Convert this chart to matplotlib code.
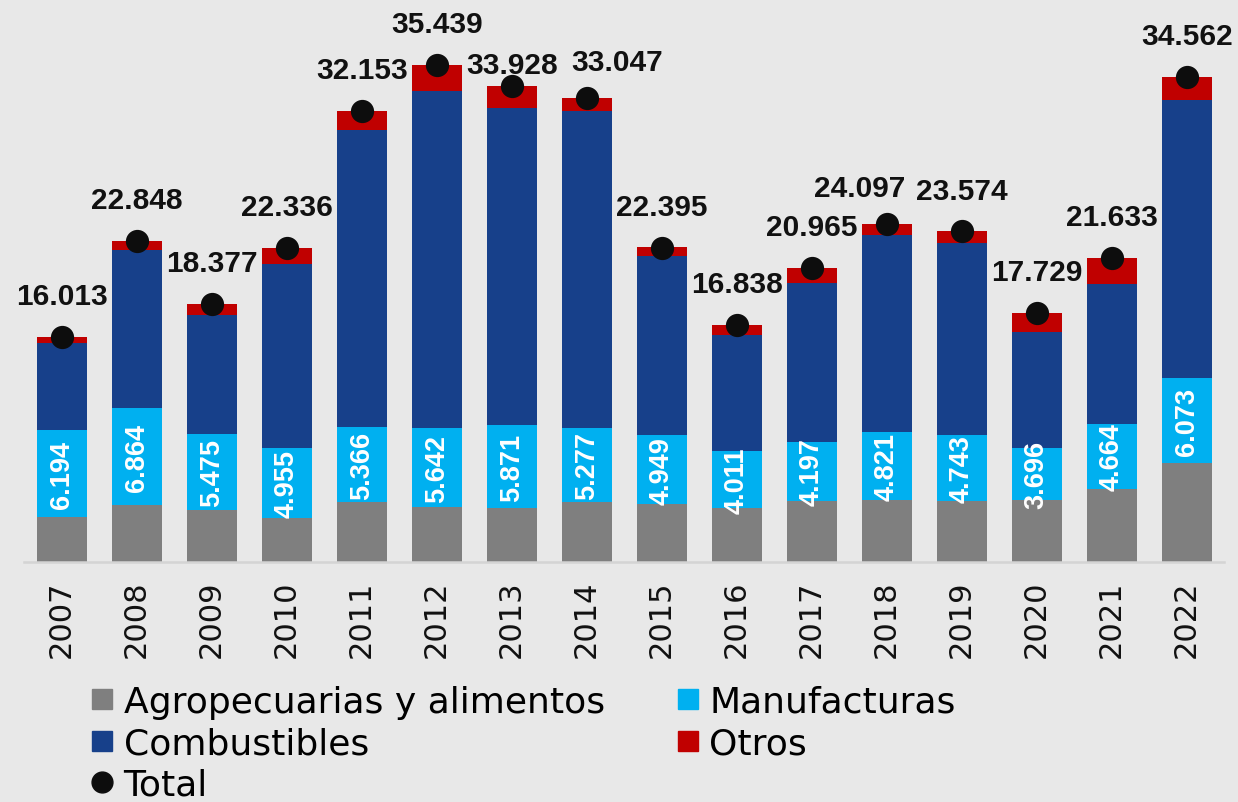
import matplotlib
matplotlib.use("Agg")
import matplotlib.pyplot as plt
from matplotlib.lines import Line2D
import numpy as np

years = [2007, 2008, 2009, 2010, 2011, 2012, 2013, 2014,
         2015, 2016, 2017, 2018, 2019, 2020, 2021, 2022]
agro = [3.15, 4.05, 3.65, 3.12, 4.22, 3.87, 3.84, 4.22,
        4.08, 3.84, 4.34, 4.41, 4.29, 4.41, 5.17, 7.00]
manuf = [6.194, 6.864, 5.475, 4.955, 5.366, 5.642, 5.871, 5.277,
         4.949, 4.011, 4.197, 4.821, 4.743, 3.696, 4.664, 6.073]
combust = [6.24, 11.33, 8.46, 13.12, 21.17, 24.07, 22.66, 22.65,
           12.74, 8.33, 11.32, 14.06, 13.67, 8.24, 9.98, 19.85]
otros = [0.43, 0.61, 0.80, 1.14, 1.39, 1.86, 1.56, 0.90,
         0.63, 0.66, 1.10, 0.81, 0.87, 1.38, 1.82, 1.64]
total = [16.013, 22.848, 18.377, 22.336, 32.153, 35.439, 33.928, 33.047,
         22.395, 16.838, 20.965, 24.097, 23.574, 17.729, 21.633, 34.562]

BG = "#e8e8e8"
C_AGRO = "#7f7f7f"
C_MANUF = "#00b0f0"
C_COMB = "#17408a"
C_OTROS = "#c00000"
C_DOT = "#0d0d0d"

fig = plt.figure(figsize=(12.38, 8.03), dpi=100, facecolor=BG)
ax = fig.add_axes([0.01955, 0.2995, 0.9693, 0.6984])
ax.set_facecolor(BG)

x = np.arange(len(years))
w = 0.667
agro_a = np.array(agro)
manuf_a = np.array(manuf)
comb_a = np.array(combust)
otros_a = np.array(otros)

ax.bar(x, agro_a, w, color=C_AGRO, zorder=2)
ax.bar(x, manuf_a, w, bottom=agro_a, color=C_MANUF, zorder=2)
ax.bar(x, comb_a, w, bottom=agro_a + manuf_a, color=C_COMB, zorder=2)
ax.bar(x, otros_a, w, bottom=agro_a + manuf_a + comb_a, color=C_OTROS, zorder=2)
ax.scatter(x, total, s=280, color=C_DOT, zorder=4, linewidths=0)

# manufacturas values inside the cyan segment
for xi, a, m in zip(x, agro, manuf):
    ax.text(xi, a + m / 2, f"{m:.3f}", rotation=90, ha="center", va="center",
            color="white", fontsize=19.5, fontweight="bold",
            family="Liberation Sans", zorder=3)

# total labels above the dots (a few were nudged in the original)
nudge = {2013: (0, 15), 2014: (22, 26), 2018: (-19.5, 26), 2019: (0, 28.5)}
for xi, yr, t in zip(x, years, total):
    ax.annotate(f"{t:.3f}", (xi, t), xytext=nudge.get(yr, (0, 29.5)),
                textcoords="offset points", ha="center", va="center",
                fontsize=21.5, fontweight="bold", family="Liberation Sans",
                color="#111111", zorder=5)

ax.set_xlim(-0.5, len(years) - 0.5)
ax.set_ylim(0, 40)
ax.set_yticks([])
ax.set_xticks(x)
ax.set_xticklabels([str(y) for y in years], rotation=90, fontsize=22,
                   color="#111111")
ax.tick_params(axis="x", length=0, pad=13)
for s in ["top", "left", "right"]:
    ax.spines[s].set_visible(False)
ax.spines["bottom"].set_color("#d4d4d4")
ax.spines["bottom"].set_linewidth(1.8)

handles = [
    Line2D([], [], marker="s", linestyle="none", markersize=15, color=C_AGRO),
    Line2D([], [], marker="s", linestyle="none", markersize=15, color=C_COMB),
    Line2D([], [], marker="o", linestyle="none", markersize=15, color=C_DOT),
    Line2D([], [], marker="s", linestyle="none", markersize=15, color=C_MANUF),
    Line2D([], [], marker="s", linestyle="none", markersize=15, color=C_OTROS),
]
labels = ["Agropecuarias y alimentos", "Combustibles", "Total",
          "Manufacturas", "Otros"]
fig.legend(handles, labels, ncol=2, loc="upper left",
           bbox_to_anchor=(91 / 1238, 1 - 686 / 803), frameon=False,
           fontsize=26, handlelength=0.6, handletextpad=0.3,
           columnspacing=2.0, labelspacing=0.2, borderpad=0,
           borderaxespad=0)

fig.savefig("out.png", dpi=100, facecolor=BG)
